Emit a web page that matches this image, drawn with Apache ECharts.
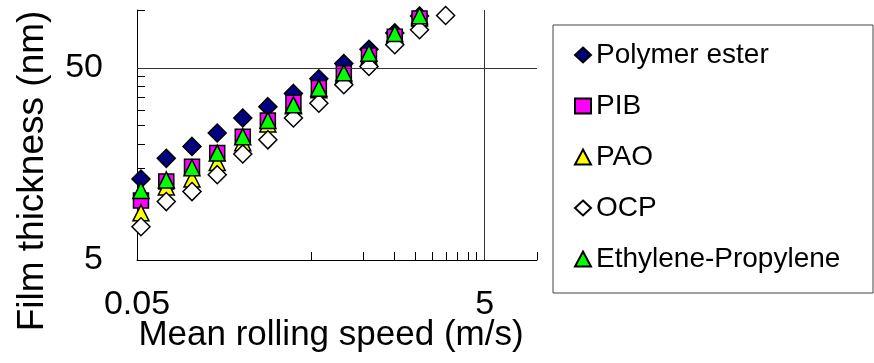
<!DOCTYPE html>
<html>
<head>
<meta charset="utf-8">
<script src="https://cdn.jsdelivr.net/npm/echarts@6/dist/echarts.min.js"></script>
<style>
html, body { margin: 0; padding: 0; background: #fff; }
#chart { width: 874px; height: 363px; }
</style>
</head>
<body>
<div id="chart"></div>
<script>
// Mean rolling speed (m/s) of each measurement step
const speeds = [0.0527, 0.0737, 0.1036, 0.1447, 0.203, 0.283, 0.397, 0.556, 0.774, 1.08, 1.52, 2.11, 2.98];

// Film thickness (nm) for each lubricant
const polymerEster      = [13.2, 16.9, 19.5, 22.9, 27.4, 31.4, 36.8, 43.9, 52.6, 62.4, 76.0, 93.0];
const pib               = [10.2, 12.8, 15.3, 18.0, 21.9, 26.6, 32.9, 39.3, 46.9, 58.0, 72.5, 90.3];
const pao               = [8.8, 12.0, 13.2, 16.1, 20.4, 25.5, 31.7, 38.4, 46.0, 57.0, 74.0, 91.0];
const ocp               = [7.45, 10.07, 11.35, 13.9, 17.8, 21.1, 27.4, 32.7, 40.8, 50.8, 65.9, 78.9, 93.6];
const ethylenePropylene = [11.5, 13.06, 15.1, 18.0, 21.9, 26.6, 32.1, 39.2, 47.1, 59.6, 75.4, 93.3];

const seriesNames = ['Polymer ester', 'PIB', 'PAO', 'OCP', 'Ethylene-Propylene'];

// Axis ticks and labels
const xLabelValues = [0.05, 5];
const xTickValues = [0.5, 1, 1.5, 2, 2.5, 3, 3.5, 4, 4.5, 5, 10];
const yLabelValues = [5, 50];
const yTickValues = [10, 15, 20, 25, 30, 35, 40, 45, 50, 100];

const xTitle = 'Mean rolling speed (m/s)';
const yTitle = 'Film thickness (nm)';

const FONT = '"Liberation Sans", Arial, Helvetica, sans-serif';

function pairs(values) {
  return values.map((v, i) => [speeds[i], v]);
}
function fmt(v) {
  return String(+Number(v).toPrecision(3));
}

const styles = [
  { symbol: 'diamond',  size: 18, color: '#000080' },
  { symbol: 'rect',     size: 15, color: '#FF00FF' },
  { symbol: 'triangle', size: 16, color: '#FFFF00' },
  { symbol: 'diamond',  size: 18, color: '#FFFFFF' },
  { symbol: 'triangle', size: 16, color: '#00FF00' }
];
const seriesData = [polymerEster, pib, pao, ocp, ethylenePropylene];

const chart = echarts.init(document.getElementById('chart'), null, { renderer: 'canvas' });

const series = [{
  // reference lines at 5 m/s and 50 nm
  type: 'scatter',
  data: [],
  z: 0,
  silent: true,
  markLine: {
    silent: true,
    symbol: ['none', 'none'],
    label: { show: false },
    lineStyle: { color: '#333', width: 1, type: 'solid' },
    emphasis: { disabled: true },
    animation: false,
    data: [{ yAxis: 50 }, { xAxis: 5 }]
  }
}];
seriesNames.forEach((name, i) => {
  series.push({
    name: name,
    type: 'scatter',
    symbol: styles[i].symbol,
    symbolSize: styles[i].size,
    itemStyle: { color: styles[i].color, borderColor: '#000', borderWidth: 1.5, opacity: 1 },
    data: pairs(seriesData[i]),
    z: 2
  });
});

chart.setOption({
  animation: false,
  backgroundColor: '#fff',
  textStyle: { fontFamily: FONT },
  grid: { left: 137, right: 337, top: 10, bottom: 103, containLabel: false, outerBoundsMode: 'none' },
  xAxis: {
    type: 'log',
    logBase: 10,
    min: 0.05,
    max: 10,
    axisLine: { show: true, lineStyle: { color: '#000', width: 1 } },
    axisTick: { show: true, inside: true, length: 8, customValues: xTickValues, lineStyle: { color: '#000', width: 1 } },
    axisLabel: { show: true, margin: 28, fontSize: 34, color: '#000', fontFamily: FONT, customValues: xLabelValues, formatter: fmt },
    splitLine: { show: false },
    minorTick: { show: false }
  },
  yAxis: {
    type: 'log',
    logBase: 10,
    min: 5,
    max: 100,
    axisLine: { show: true, lineStyle: { color: '#000', width: 1 } },
    axisTick: { show: true, inside: true, length: 8, customValues: yTickValues, lineStyle: { color: '#000', width: 1 } },
    axisLabel: { show: true, margin: 34, fontSize: 34, color: '#000', fontFamily: FONT, customValues: yLabelValues, formatter: fmt },
    splitLine: { show: false },
    minorTick: { show: false }
  },
  legend: {
    orient: 'vertical',
    left: 574,
    top: 40,
    padding: 0,
    itemGap: 21,
    itemWidth: 16,
    itemHeight: 15,
    selectedMode: false,
    textStyle: { fontSize: 28, color: '#000', fontFamily: FONT, lineHeight: 30 },
    data: seriesNames.map((n, i) => ({ name: n, icon: styles[i].symbol }))
  },
  graphic: [{
    type: 'rect',
    shape: { x: 553, y: 25, width: 320, height: 268 },
    style: { fill: 'none', stroke: '#444', lineWidth: 1 },
    silent: true,
    z: -1
  }, {
    type: 'text',
    x: 331,
    y: 335,
    silent: true,
    style: { text: xTitle, font: '35px ' + FONT, fill: '#000', align: 'center', verticalAlign: 'middle' }
  }, {
    type: 'text',
    x: 33,
    y: 171,
    rotation: Math.PI / 2,
    silent: true,
    style: { text: yTitle, font: '37px ' + FONT, fill: '#000', align: 'center', verticalAlign: 'middle' }
  }],
  series: series
});
</script>
</body>
</html>
